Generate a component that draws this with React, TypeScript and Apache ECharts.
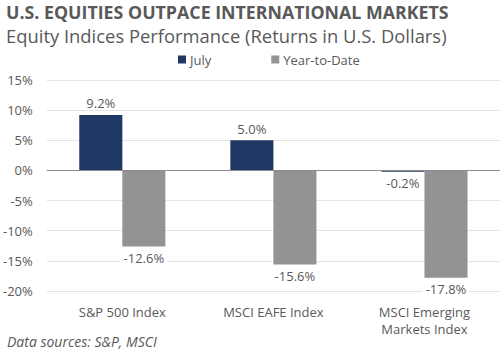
import React, { useEffect, useRef } from "react";
import * as echarts from "echarts";

const categories = ["S&P 500 Index", "MSCI EAFE Index", "MSCI Emerging\nMarkets Index"];
const julyValues = [9.2, 5.0, -0.2];
const ytdValues = [-12.6, -15.6, -17.8];
const yTicks = [-20, -15, -10, -5, 0, 5, 10, 15];

const TEXT = "#595959";
const FONT = "'Open Sans', sans-serif";

function labeled(values: number[]) {
  return values.map((v) => ({
    value: v,
    label: { position: v >= 0 ? "top" : "bottom" },
  }));
}

export default function App() {
  const ref = useRef<HTMLDivElement>(null);
  useEffect(() => {
    if (!ref.current) return;
    const chart = echarts.init(ref.current, undefined, { renderer: "svg" });
    const labelStyle = {
      show: true,
      formatter: (p: any) => p.value.toFixed(1) + "%",
      color: TEXT,
      fontFamily: FONT,
      fontSize: 13,
      distance: 5,
      backgroundColor: "#ffffff",
      padding: [0, 3],
    };
    chart.setOption({
      animation: false,
      backgroundColor: "#ffffff",
      textStyle: { fontFamily: FONT },
      graphic: [
        {
          type: "text",
          left: 6,
          top: 3,
          style: {
            text: "U.S. EQUITIES OUTPACE INTERNATIONAL MARKETS",
            fill: TEXT,
            font: "bold 17.8px 'Open Sans', sans-serif",
          },
        },
        {
          type: "text",
          left: 6,
          top: 26,
          style: {
            text: "Equity Indices Performance (Returns in U.S. Dollars)",
            fill: TEXT,
            font: "18.4px 'Open Sans', sans-serif",
          },
        },
        {
          type: "text",
          left: 7,
          top: 334,
          style: {
            text: "Data sources: S&P, MSCI",
            fill: TEXT,
            font: "italic 14px 'Open Sans', sans-serif",
          },
        },
      ],
      legend: {
        top: 48,
        left: 173,
        itemWidth: 8,
        itemHeight: 8,
        itemGap: 60,
        icon: "rect",
        textStyle: { color: TEXT, fontSize: 13, fontFamily: FONT, padding: [0, 0, 0, -1] },
        data: ["July", "Year-to-Date"],
      },
      grid: { left: 43, width: 462, top: 80, height: 211, containLabel: false },
      xAxis: {
        type: "category",
        data: categories,
        axisLine: { show: false },
        axisTick: { show: false },
        axisLabel: {
          color: TEXT,
          fontSize: 13,
          fontFamily: FONT,
          margin: 11,
          lineHeight: 17.5,
          verticalAlign: "top",
          interval: 0,
          padding: [1, 0, 0, 0],
        },
      },
      yAxis: {
        type: "value",
        min: -20,
        max: 15,
        interval: 5,
        axisLine: { show: false },
        axisTick: { show: false },
        axisLabel: {
          color: TEXT,
          fontSize: 13,
          fontFamily: FONT,
          margin: 14,
          formatter: (v: number) => (yTicks.includes(v) ? v + "%" : ""),
        },
        splitLine: { lineStyle: { color: "#e3e3e3", width: 1 } },
      },
      series: [
        {
          name: "July",
          type: "bar",
          data: labeled(julyValues),
          barWidth: "28.5%",
          barGap: "0%",
          itemStyle: { color: "#1f3864" },
          label: labelStyle,
          markLine: {
            silent: true,
            symbol: "none",
            label: { show: false },
            lineStyle: { color: "#8c8c8c", width: 1, type: "solid" },
            data: [{ yAxis: 0 }],
          },
          z: 3,
        },
        {
          name: "Year-to-Date",
          type: "bar",
          data: labeled(ytdValues),
          barWidth: "28.5%",
          itemStyle: { color: "#939393" },
          label: labelStyle,
          z: 3,
        },
      ],
    });
    return () => chart.dispose();
  }, []);
  return <div ref={ref} style={{ width: 500, height: 352, position: "absolute", left: 0, top: 0 }} />;
}
